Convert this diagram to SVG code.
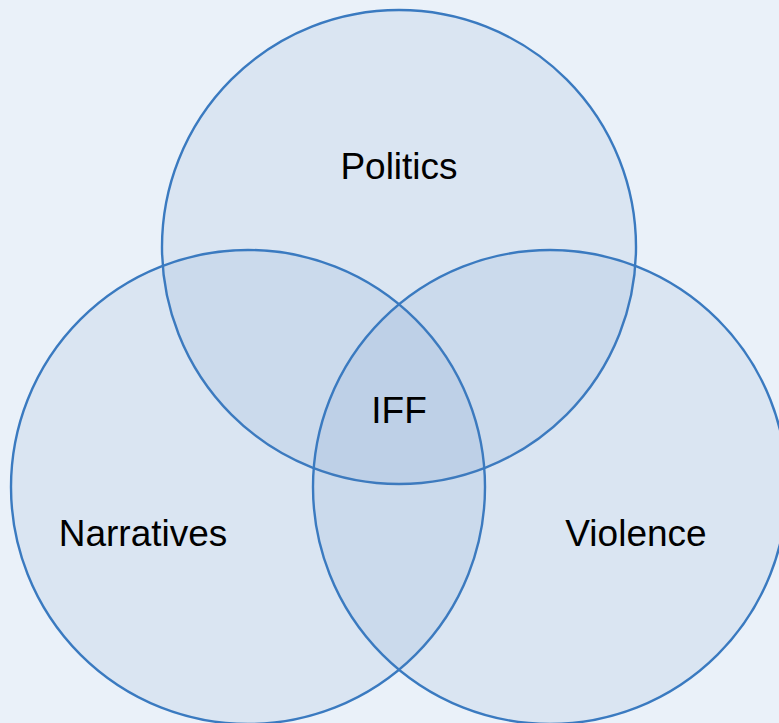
<svg xmlns="http://www.w3.org/2000/svg" width="779" height="723" viewBox="0 0 779 723">
<style>
.c{fill:#4F81BD;fill-opacity:0.1;stroke:#3A7AC0;stroke-width:2.4}
.t{font-family:"Liberation Sans",Arial,sans-serif;font-size:37px;fill:#000;text-anchor:middle}
</style>
<rect width="779" height="723" fill="#EAF1F9"/>
<g id="politics"><circle class="c" cx="399" cy="247" r="237"/><text class="t" x="399" y="179">Politics</text></g>
<g id="narratives"><circle class="c" cx="248" cy="487" r="237"/><text class="t" x="143" y="546">Narratives</text></g>
<g id="violence"><circle class="c" cx="550" cy="487" r="237"/><text class="t" x="636" y="546">Violence</text></g>
<g id="iff"><text class="t" x="399" y="423">IFF</text></g>
<g id="connectors"/>
</svg>
